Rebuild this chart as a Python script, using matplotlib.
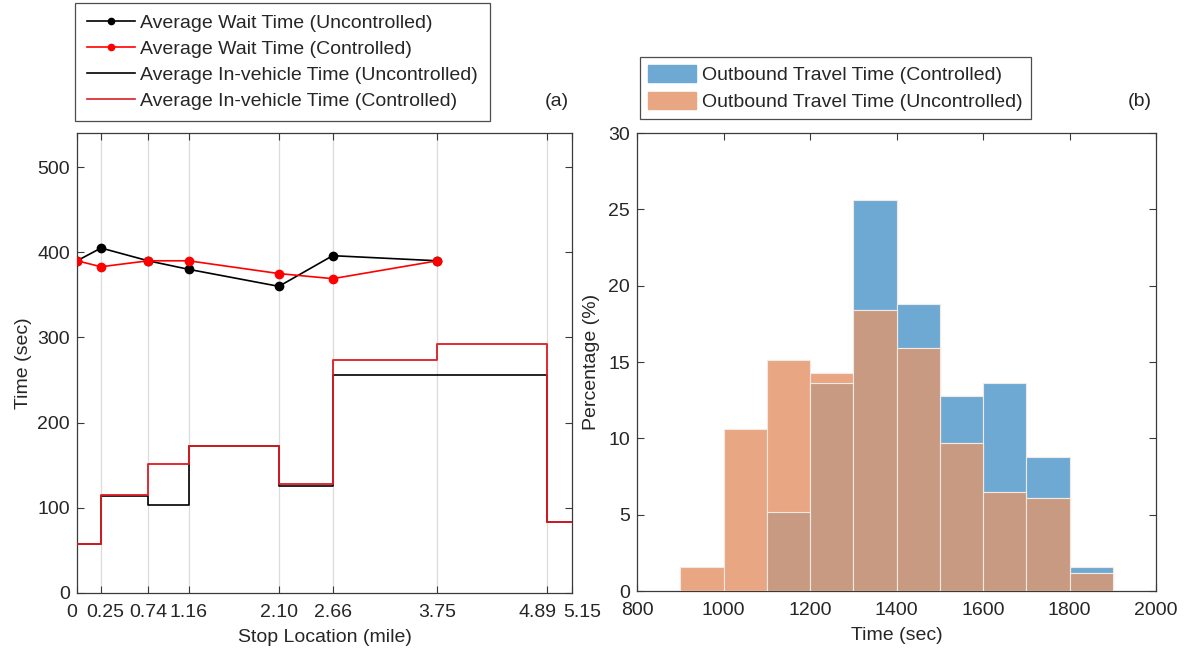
import matplotlib
matplotlib.use("Agg")
import matplotlib.pyplot as plt
from matplotlib.lines import Line2D
from matplotlib.patches import Patch
from matplotlib.transforms import ScaledTranslation

plt.rcParams['font.family'] = ['Liberation Sans', 'DejaVu Sans']

# ---- (a) stop-level times ----
stop_x = [0, 0.25, 0.74, 1.16, 2.10, 2.66, 3.75, 4.89, 5.15]
stop_labels = ['0', '0.25', '0.74', '1.16', '2.10', '2.66', '3.75', '4.89', '5.15']

wait_stops = [0, 0.25, 0.74, 1.16, 2.10, 2.66, 3.75]
wait_uncontrolled = [390, 405, 390, 380, 360, 396, 390]
wait_controlled = [390, 383, 390, 390, 375, 369, 390]

# in-vehicle time for each segment between consecutive stops
invehicle_uncontrolled = [57, 114, 103, 172, 126, 256, 256, 83]
invehicle_controlled = [58, 115, 151, 173, 128, 274, 292, 83]

# ---- (b) outbound travel time distribution ----
bin_edges = [900, 1000, 1100, 1200, 1300, 1400, 1500, 1600, 1700, 1800, 1900]
pct_controlled = [0, 0, 5.2, 13.6, 25.6, 18.8, 12.8, 13.6, 8.8, 1.6]
pct_uncontrolled = [1.6, 10.6, 15.1, 14.3, 18.4, 15.9, 9.7, 6.5, 6.1, 1.2]

TXT = '#262626'
SPINE = '#3a3a3a'
FS = 14

fig = plt.figure(figsize=(11.87, 6.53), dpi=100)
axa = fig.add_axes([0.0649, 0.0919, 0.4170, 0.7044])
axb = fig.add_axes([0.5367, 0.0949, 0.4372, 0.7014])

def style_axes(ax):
    for s in ax.spines.values():
        s.set_color(SPINE)
        s.set_linewidth(0.9)
    ax.tick_params(direction='in', length=5, width=0.8, color=SPINE,
                   top=True, right=True, labelsize=FS, labelcolor=TXT, pad=5)
    ax.tick_params(axis='x', pad=8)

# (a)
style_axes(axa)
axa.set_xlim(0, 5.15)
axa.set_ylim(0, 540)
axa.set_xticks(stop_x)
axa.set_xticklabels(stop_labels)
axa.set_yticks([0, 100, 200, 300, 400, 500])
# nudge crowded tick labels apart (offsets in points)
nudges = {0: -4, 1: 3, 7: -7, 8: 7}
for i, lab in enumerate(axa.get_xticklabels()):
    if i in nudges:
        lab.set_transform(lab.get_transform() +
                          ScaledTranslation(nudges[i] / 72, 0, fig.dpi_scale_trans))
for xv in stop_x[1:-1]:
    axa.axvline(xv, color='#dcdcdc', lw=0.9, zorder=0)

iv_u = invehicle_uncontrolled + [invehicle_uncontrolled[-1]]
iv_c = invehicle_controlled + [invehicle_controlled[-1]]
axa.step(stop_x, iv_u, where='post', color='black', lw=1.2, zorder=2)
axa.step(stop_x, iv_c, where='post', color='#dc1c22', lw=1.3, zorder=3)
axa.plot(wait_stops, wait_uncontrolled, color='black', lw=1.2, marker='o', ms=6, zorder=4)
axa.plot(wait_stops, wait_controlled, color='red', lw=1.2, marker='o', ms=6, zorder=5)

axa.set_xlabel('Stop Location (mile)', fontsize=FS, color=TXT, labelpad=6)
axa.set_ylabel('Time (sec)', fontsize=FS, color=TXT, labelpad=4)

handles_a = [
    Line2D([], [], color='black', lw=1.2, marker='o', ms=4.5),
    Line2D([], [], color='red', lw=1.2, marker='o', ms=4.5),
    Line2D([], [], color='black', lw=1.2),
    Line2D([], [], color='#dc1c22', lw=1.2),
]
labels_a = ['Average Wait Time (Uncontrolled)', 'Average Wait Time (Controlled)',
            'Average In-vehicle Time (Uncontrolled)', 'Average In-vehicle Time (Controlled)']
leg_a = fig.legend(handles_a, labels_a, loc='upper left',
                   bbox_to_anchor=(75 / 1187, 1 - 3 / 653), fontsize=FS,
                   frameon=True, fancybox=False, edgecolor='#202020',
                   handlelength=2.5, handletextpad=0.25, labelspacing=0.42,
                   borderpad=0.6, borderaxespad=0)
leg_a.get_frame().set_linewidth(0.9)
for t in leg_a.get_texts():
    t.set_color(TXT)
fig.text(557 / 1187, 1 - 101 / 653, '(a)', fontsize=FS, color=TXT, ha='center', va='center')

# (b)
style_axes(axb)
axb.set_xlim(800, 2000)
axb.set_ylim(0, 30)
axb.set_xticks([800, 1000, 1200, 1400, 1600, 1800, 2000])
axb.set_yticks([0, 5, 10, 15, 20, 25, 30])

left = bin_edges[:-1]
width = [b - a for a, b in zip(bin_edges[:-1], bin_edges[1:])]
overlap = [min(c, u) for c, u in zip(pct_controlled, pct_uncontrolled)]
C_BLUE = '#6ea9d4'
C_ORANGE = '#e9a683'
C_BOTH = '#c99a82'
EDGE = '#f3e9e3'
axb.bar(left, pct_controlled, width=width, align='edge', color=C_BLUE,
        edgecolor=EDGE, lw=0.8, zorder=3)
axb.bar(left, pct_uncontrolled, width=width, align='edge', color=C_ORANGE,
        edgecolor=EDGE, lw=0.8, zorder=3)
axb.bar(left, overlap, width=width, align='edge', color=C_BOTH,
        edgecolor=EDGE, lw=0.8, zorder=4)

axb.set_xlabel('Time (sec)', fontsize=FS, color=TXT, labelpad=6)
axb.set_ylabel('Percentage (%)', fontsize=FS, color=TXT, labelpad=6)

handles_b = [Patch(facecolor=C_BLUE, edgecolor=C_BLUE),
             Patch(facecolor=C_ORANGE, edgecolor=C_ORANGE)]
labels_b = ['Outbound Travel Time (Controlled)', 'Outbound Travel Time (Uncontrolled)']
leg_b = fig.legend(handles_b, labels_b, loc='upper left',
                   bbox_to_anchor=(640 / 1187, 1 - 57 / 653), fontsize=FS,
                   frameon=True, fancybox=False, edgecolor='#202020',
                   handlelength=2.5, handleheight=1.0, handletextpad=0.3,
                   labelspacing=0.4, borderpad=0.4, borderaxespad=0)
leg_b.get_frame().set_linewidth(0.9)
for t in leg_b.get_texts():
    t.set_color(TXT)
fig.text(1140 / 1187, 1 - 101 / 653, '(b)', fontsize=FS, color=TXT, ha='center', va='center')

fig.savefig('out.png', dpi=100, facecolor='white')
